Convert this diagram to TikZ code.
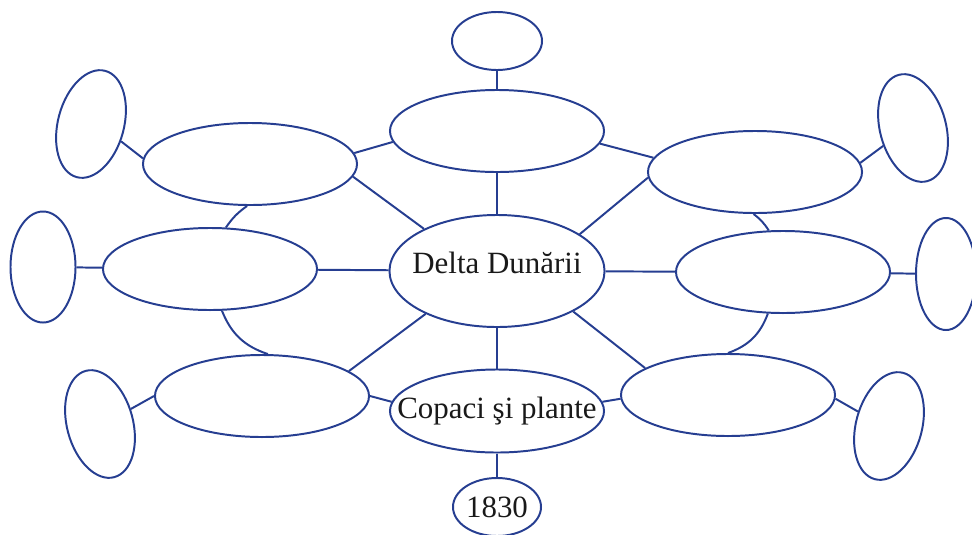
\documentclass[tikz,border=0pt]{standalone}
\usepackage{fontspec}
\setmainfont{Liberation Serif}
\usetikzlibrary{shapes.geometric}
\definecolor{dunblue}{HTML}{263E91}

\tikzset{
  bubble/.style={ellipse, draw=dunblue, line width=1.4pt, inner sep=0pt,
    minimum width=5.35cm, minimum height=2.05cm,
    font=\fontsize{22}{26}\selectfont, text=black!90},
  leaf/.style={bubble, minimum width=1.65cm, minimum height=2.75cm},
  link/.style={draw=dunblue, line width=1.4pt}
}

\begin{document}
\begin{tikzpicture}[x=0.025cm, y=-0.025cm]
\useasboundingbox (0,0) rectangle (972,534);

% middle column
\node[bubble, minimum width=2.25cm, minimum height=1.45cm] (top) at (497,41) {};
\node[bubble] (up) at (497,131) {};
\node[bubble, minimum width=5.375cm, minimum height=2.8cm, text depth=0.39cm] (delta) at (497,271) {\makebox[0pt]{Delta Dunării}};
\node[bubble, minimum height=2.075cm] (copaci) at (497,411) {\makebox[0pt]{Copaci şi plante}};
\node[bubble, minimum width=2.2cm, minimum height=1.45cm] (year) at (497,507) {\makebox[0pt]{1830}};

% left side
\node[bubble] (ul) at (250,164) {};
\node[bubble] (ml) at (210,269) {};
\node[bubble] (ll) at (262,396) {};
\node[leaf, rotate=-15] (ulo) at (91,124) {};
\node[leaf, minimum width=1.625cm, minimum height=2.775cm] (mlo) at (43,267) {};
\node[leaf, rotate=15] (llo) at (100,424) {};

% right side
\node[bubble] (ur) at (755,172) {};
\node[bubble] (mr) at (783,272) {};
\node[bubble] (lr) at (728,395) {};
\node[leaf, rotate=15] (uro) at (913,128) {};
\node[leaf, minimum width=1.5cm, minimum height=2.8cm] (mro) at (946,274) {};
\node[leaf, rotate=-15] (lro) at (889,426) {};

\draw[link] (top) -- (up);
\draw[link] (up) -- (delta);
\draw[link] (delta) -- (copaci);
\draw[link] (copaci) -- (year);

\draw[link] (ul.6) -- (up.186);
\draw[link] (up.-7) -- (ur.172);
\draw[link] (delta.150) -- (ul.-7);
\draw[link] (delta.24) -- (ur.183);
\draw[link] (ml) -- (delta);
\draw[link] (delta) -- (mr);
\draw[link] (delta.211) -- (ll.16);
\draw[link] (delta.-28) -- (lr.162);
\draw[link] (ll.east) -- (copaci.175);
\draw[link] (copaci.5) -- (lr.182);

% curved links between neighbours
\draw[link] (ul.266) to[bend right=10] (ml.69);
\draw[link] (ml.286) to[bend right=25] (ll.82);
\draw[link] (ur.268) to[bend left=10] (mr.109);
\draw[link] (mr.250) to[bend left=25] (lr.90);

% outer ones
\draw[link] (ulo.-15) -- (ul.177);
\draw[link] (mlo) -- (ml);
\draw[link] (llo.11) -- (ll.west);
\draw[link] (ur.5) -- (uro.196);
\draw[link] (mr) -- (mro);
\draw[link] (lr.-2) -- (lro.170);

\end{tikzpicture}
\end{document}
